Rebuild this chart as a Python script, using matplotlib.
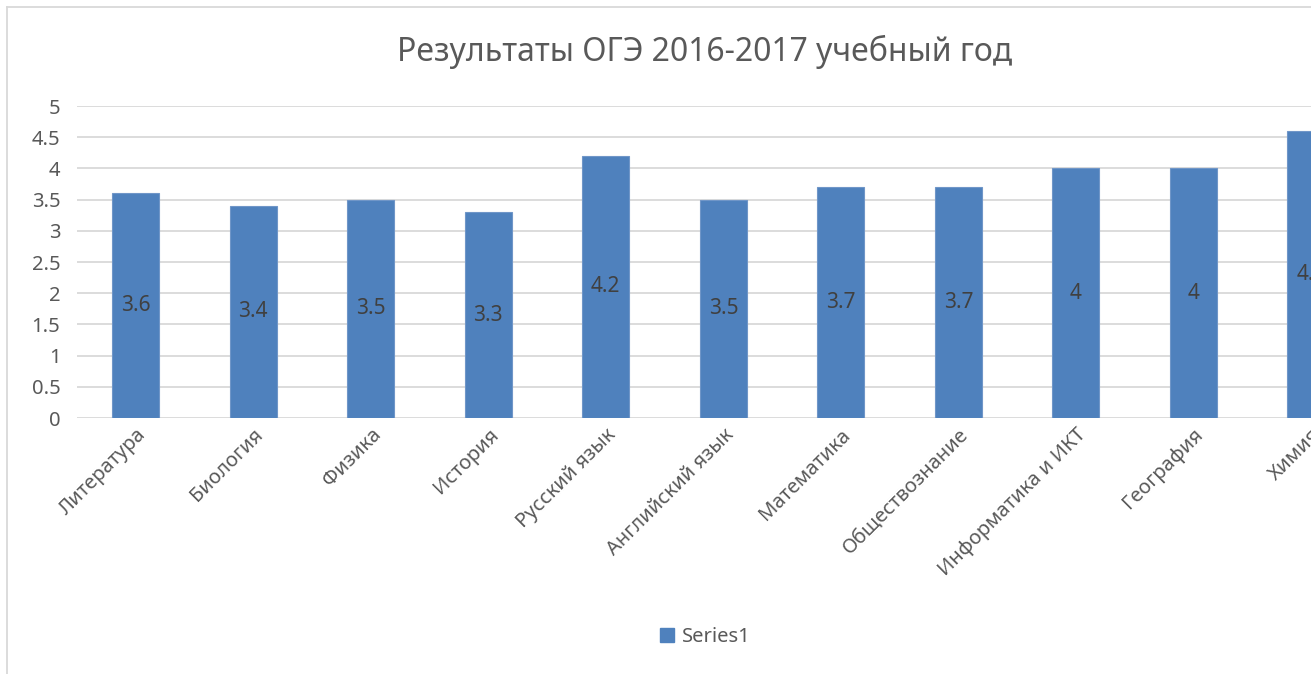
import matplotlib
matplotlib.use('Agg')
import matplotlib.pyplot as plt
from matplotlib.lines import Line2D

categories = ['Литература', 'Биология', 'Физика', 'История', 'Русский язык',
              'Английский язык', 'Математика', 'Обществознание',
              'Информатика и ИКТ', 'География', 'Химия']
values = [3.6, 3.4, 3.5, 3.3, 4.2, 3.5, 3.7, 3.7, 4.0, 4.0, 4.6]
yticks = [0, 0.5, 1, 1.5, 2, 2.5, 3, 3.5, 4, 4.5, 5]

plt.rcParams['font.family'] = ['Noto Sans', 'DejaVu Sans']

W, H = 1311, 674
fig = plt.figure(figsize=(W / 100, H / 100), dpi=100)

# plot area: left 77px, top 106px, bottom 418px, runs past the right edge
ax = fig.add_axes([77 / W, 1 - 418 / H, (W - 77) / W, (418 - 106) / H])
x = list(range(len(categories)))
ax.bar(x, values, width=0.4, color='#4F81BD', edgecolor='#7096c8', linewidth=0.8, zorder=3)
for xi, v in zip(x, values):
    lbl = f'{v:g}'
    ax.text(xi, v / 2, lbl, ha='center', va='center', fontsize=15, color='#404040', zorder=4)

ax.set_xlim(-0.5, (W - 135) / 118)
ax.set_ylim(0, 5)
ax.set_yticks(yticks)
ax.set_yticklabels([f'{t:g}' for t in yticks])
ax.yaxis.grid(True, color='#d9d9d9', linewidth=1.3, zorder=0)
for s in ax.spines.values():
    s.set_visible(False)
ax.tick_params(axis='both', length=0, labelsize=14.5, colors='#595959')
ax.tick_params(axis='y', pad=12)
ax.set_xticks(x)
ax.set_xticklabels(categories, rotation=45, ha='right', rotation_mode='anchor')
ax.tick_params(axis='x', pad=5)

fig.text(705 / W, 1 - 52 / H, 'Результаты ОГЭ 2016-2017 учебный год', ha='center', va='center',
         fontsize=23, color='#595959')

# legend
ax.legend([plt.Rectangle((0, 0), 1, 1, color='#4F81BD')], ['Series1'], loc='center',
          bbox_to_anchor=(705 / W, 1 - 637 / H), bbox_transform=fig.transFigure,
          frameon=False, fontsize=14.5, labelcolor='#595959', handlelength=0.7,
          handleheight=0.7, handletextpad=0.4)

# chart border, cropped
fig.add_artist(Line2D([7 / W, 7 / W], [0, 1 - 7 / H], color='#d9d9d9', linewidth=1.3))
fig.add_artist(Line2D([7 / W, 1], [1 - 7 / H, 1 - 7 / H], color='#d9d9d9', linewidth=1.3))

fig.savefig('out.png', dpi=100)
